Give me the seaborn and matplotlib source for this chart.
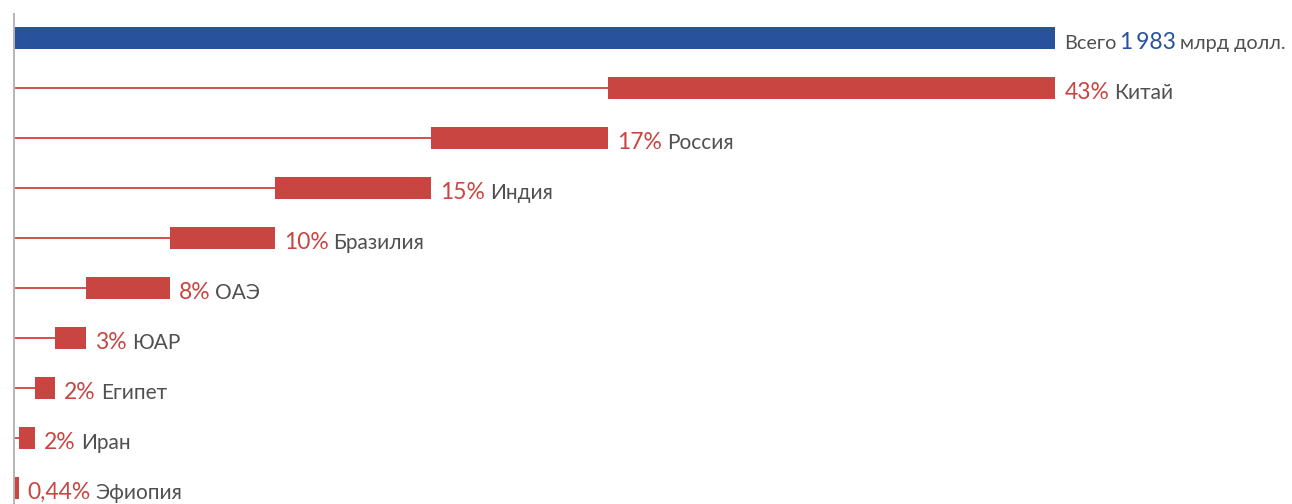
import matplotlib
matplotlib.use("Agg")
import matplotlib.pyplot as plt
import seaborn as sns
import pandas as pd
import numpy as np

# ---- data ----
categories = ["Всего", "Китай", "Россия", "Индия", "Бразилия", "ОАЭ", "ЮАР", "Египет", "Иран", "Эфиопия"]
shares = [100.0, 43.0, 17.0, 15.0, 10.1, 8.0, 3.0, 1.9, 1.6, 0.44]   # % of total (bar widths)
share_labels = ["", "43%", "17%", "15%", "10%", "8%", "3%", "2%", "2%", "0,44%"]
total_value = "1\u2009983"
total_prefix = "Всего"
total_suffix = "млрд долл."

# bars stack from the bottom (Эфиопия) up to Китай; each starts where the next one ends
starts = [0.0] * len(shares)
acc = 0.0
for i in range(len(shares) - 1, 0, -1):
    starts[i] = acc
    acc += shares[i]

BLUE = "#29529C"
RED = "#C94541"
LINE_RED = "#D4504C"
GREY_TXT = "#505050"
AXIS_GREY = "#B5B5B5"

sns.set_theme(style="white")
plt.rcParams["font.family"] = ["Lato", "DejaVu Sans"]

W, H, DPI = 1292, 504, 100
fig = plt.figure(figsize=(W / DPI, H / DPI), dpi=DPI)
left_px, right_px = 14, 1055
ax = fig.add_axes([left_px / W, 0, (right_px - left_px) / W, 1])

df = pd.DataFrame({"cat": categories, "share": shares})
palette = [BLUE] + [RED] * (len(categories) - 1)
sns.barplot(data=df, x="share", y="cat", hue="cat", palette=palette, legend=False,
            orient="h", width=0.45, ax=ax, saturation=1, edgecolor="none", linewidth=0)

# shift each bar to its start position
for patch, s in zip(ax.patches, starts):
    patch.set_x(s)

row_px = 50.0
first_center_px = 38.0
y_top = -first_center_px / row_px
y_bot = (H - first_center_px) / row_px
ax.set_xlim(0, 100)
ax.set_ylim(y_bot, y_top)

# connector lines from axis to bar start
for i, s in enumerate(starts):
    if i > 0 and s > 0:
        ax.plot([0, s], [i, i], color=LINE_RED, lw=1.4, solid_capstyle="butt", zorder=1)

for sp in ["top", "right", "bottom"]:
    ax.spines[sp].set_visible(False)
ax.spines["left"].set_color(AXIS_GREY)
ax.spines["left"].set_linewidth(1.4)
ax.spines["left"].set_bounds(y_bot, y_top + 14 / row_px)
ax.set_xticks([])
ax.set_yticks([])
ax.set_xlabel("")
ax.set_ylabel("")

PCT_SIZE = 16.5
NAME_SIZE = 15
TOTAL_NAME_SIZE = 14.3
gap_px = 9
space_px = 5

fig.canvas.draw()
renderer = fig.canvas.get_renderer()
inv = ax.transData.inverted()


def place(x_px, y, txt, color, size):
    xd = inv.transform((x_px, 0))[0]
    t = ax.text(xd, y, txt, color=color, fontsize=size, va="baseline", ha="left",
                clip_on=False)
    bb = t.get_window_extent(renderer=renderer)
    return bb.x1


for i, (cat, s, w, lab) in enumerate(zip(categories, starts, shares, share_labels)):
    end = s + w
    x_px = ax.transData.transform((end, 0))[0] + gap_px
    yb = i + 0.21
    if i == 0:
        x1 = place(x_px, yb, total_prefix, GREY_TXT, TOTAL_NAME_SIZE)
        x1 = place(x1 + 4, yb, total_value, BLUE, PCT_SIZE)
        place(x1 + 4, yb, total_suffix, GREY_TXT, TOTAL_NAME_SIZE)
    else:
        x1 = place(x_px, yb, lab, RED, PCT_SIZE)
        place(x1 + space_px, yb, cat, GREY_TXT, NAME_SIZE)

fig.savefig("out.png", dpi=DPI)
